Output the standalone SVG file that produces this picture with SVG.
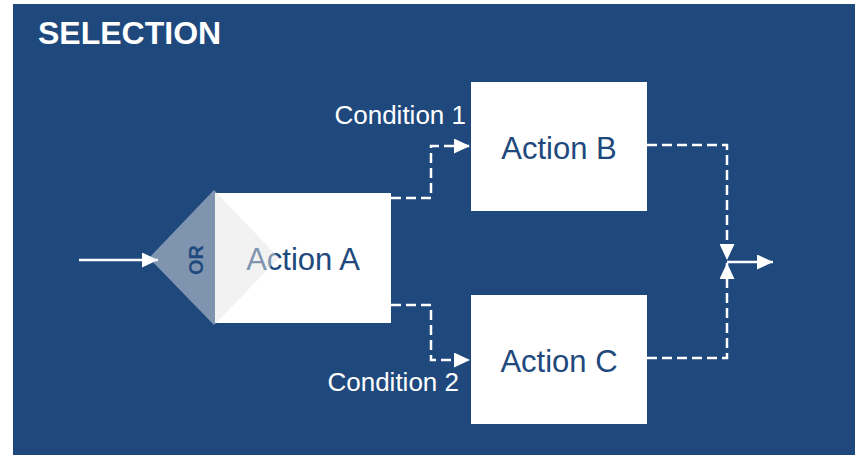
<svg xmlns="http://www.w3.org/2000/svg" width="855" height="455" viewBox="0 0 855 455">
  <defs>
    <marker id="arrow" viewBox="0 0 16 15" refX="16" refY="7.5" markerWidth="16" markerHeight="15" markerUnits="userSpaceOnUse" orient="auto">
      <path d="M0,0 L16,7.5 L0,15 Z" fill="#ffffff" stroke="none"/>
    </marker>
    <style>
      .box { fill: #ffffff; }
      .label { font-family: "Liberation Sans", Arial, sans-serif; font-size: 31px; fill: #1f497d; text-anchor: middle; }
      .cond { font-family: "Liberation Sans", Arial, sans-serif; font-size: 26px; fill: #ffffff; text-anchor: end; }
      .flow { fill: none; stroke: #ffffff; stroke-width: 2.5; }
      .dashed { stroke-dasharray: 10 5; }
    </style>
  </defs>

  <!-- panel -->
  <rect x="13" y="4" width="842" height="451" fill="#1f497d"/>
  <text x="38" y="44" font-family="Liberation Sans, Arial, sans-serif" font-size="32" font-weight="bold" fill="#ffffff">SELECTION</text>

  <!-- connectors -->
  <g id="connectors">
    <path class="flow" d="M79,260 H158" marker-end="url(#arrow)"/>
    <path class="flow dashed" d="M391,198 H431 V146 H470" marker-end="url(#arrow)"/>
    <path class="flow dashed" d="M391,305 H431 V360 H470" marker-end="url(#arrow)"/>
    <path class="flow dashed" d="M647,145 H727 V260" marker-end="url(#arrow)"/>
    <path class="flow dashed" d="M647,358 H727 V263" marker-end="url(#arrow)"/>
    <path class="flow" d="M727,262 H773" marker-end="url(#arrow)"/>
  </g>

  <!-- nodes -->
  <g id="action-a">
    <rect class="box" x="215" y="193" width="176" height="130"/>
    <text class="label" x="303" y="270">Action A</text>
  </g>

  <g id="or-gate">
    <polygon points="149,258 214,190 279,258 214,325" fill="#e4e4e4" fill-opacity="0.49"/>
    <text transform="translate(203,260) rotate(-90)" font-family="Liberation Sans, Arial, sans-serif" font-size="20" font-weight="bold" fill="#1f497d" text-anchor="middle">OR</text>
  </g>

  <g id="action-b">
    <rect class="box" x="471" y="82" width="176" height="129"/>
    <text class="label" x="559" y="159">Action B</text>
  </g>

  <g id="action-c">
    <rect class="box" x="471" y="295" width="176" height="129"/>
    <text class="label" x="559" y="372">Action C</text>
  </g>

  <g id="condition-labels">
    <text class="cond" x="466" y="124">Condition 1</text>
    <text class="cond" x="459" y="391">Condition 2</text>
  </g>
</svg>
